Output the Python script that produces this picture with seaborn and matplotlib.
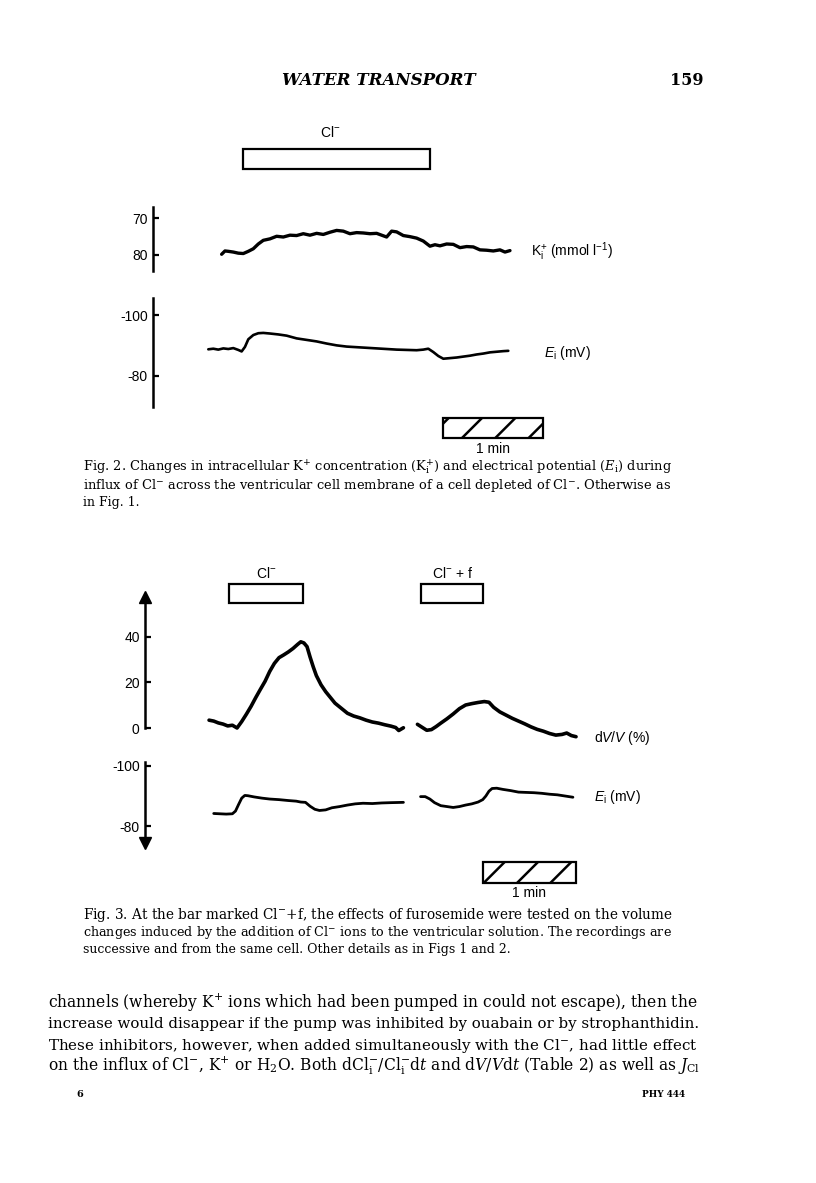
import matplotlib
matplotlib.use("Agg")
import matplotlib.pyplot as plt
import seaborn as sns
import pandas as pd

W, H = 816, 1183

# ---- Fig. 2 recordings (time in s) ----
fig2_k_t = [41, 43, 45, 48, 51, 54, 57, 60, 63, 66, 70, 74, 78, 82, 86, 90, 94, 98, 102, 106,
            110, 114, 118, 122, 126, 130, 134, 137, 140, 143, 146, 150, 154, 158, 162, 166, 169,
            172, 176, 180, 184, 188, 192, 196, 200, 204, 208, 211, 214]
fig2_k = [79.8, 78.9, 79.0, 79.2, 79.5, 79.6, 79.0, 78.3, 77.0, 76.0, 75.6, 74.9, 75.1, 74.6, 74.7,
          74.2, 74.6, 74.1, 74.4, 73.8, 73.3, 73.5, 74.2, 73.9, 74.0, 74.2, 74.1, 74.6, 75.1, 73.5,
          73.7, 74.7, 75.0, 75.4, 76.2, 77.6, 77.2, 77.5, 77.0, 77.1, 78.0, 77.7, 77.8, 78.6, 78.7,
          78.9, 78.6, 79.2, 78.8]
fig2_e_t = [33, 36, 39, 42, 45, 48, 51, 53, 55, 57, 60, 63, 66, 70, 75, 80, 86, 92, 98, 104, 110,
            116, 122, 128, 134, 140, 146, 152, 158, 162, 165, 168, 171, 174, 178, 182, 186, 190,
            194, 198, 202, 206, 210, 213]
fig2_e = [-88.7, -88.9, -88.6, -89.0, -88.8, -89.1, -88.5, -88.0, -89.5, -92.0, -93.4, -94.0, -94.1,
          -93.9, -93.6, -93.2, -92.3, -91.8, -91.3, -90.6, -90.0, -89.6, -89.4, -89.2, -89.0, -88.8,
          -88.6, -88.5, -88.4, -88.6, -88.9, -87.8, -86.5, -85.6, -85.8, -86.0, -86.3, -86.6, -87.0,
          -87.3, -87.7, -87.9, -88.1, -88.2]
fig2_bar_start = [54]
fig2_bar_len = [112]
fig2_bar_labels = ["Cl$^{-}$"]
fig2_k_ticks = [70, 80]
fig2_e_ticks = [-100, -80]

# ---- Fig. 3 recordings ----
fig3_v1_t = [41, 44, 47, 50, 53, 56, 59, 62, 65, 68, 71, 74, 77, 80, 83, 86, 89, 92, 95, 98, 100,
             102, 104, 106, 108, 110, 113, 116, 119, 122, 126, 130, 134, 138, 142, 146, 150, 154,
             158, 161, 163, 166]
fig3_v1 = [3.6, 3.2, 2.4, 1.9, 1.1, 1.4, 0.2, 3.0, 6.2, 9.6, 13.4, 17.0, 20.5, 24.8, 28.3, 30.8,
           32.0, 33.3, 34.8, 36.6, 37.7, 37.2, 35.6, 31.0, 26.8, 23.0, 19.0, 16.0, 13.5, 11.0, 8.8,
           6.6, 5.4, 4.6, 3.6, 2.8, 2.3, 1.6, 1.0, 0.4, -0.9, 0.3]
fig3_v2_t = [175, 178, 181, 184, 187, 190, 194, 198, 202, 206, 210, 214, 218, 221, 224, 228, 232,
             236, 240, 244, 248, 252, 256, 260, 264, 268, 271, 274, 277]
fig3_v2 = [1.8, 0.5, -0.8, -0.5, 0.8, 2.3, 4.2, 6.3, 8.6, 10.2, 10.8, 11.3, 11.7, 11.4, 9.2, 7.2,
           5.8, 4.4, 3.2, 2.0, 0.7, -0.4, -1.2, -2.2, -2.9, -2.6, -2.0, -3.1, -3.6]
fig3_e1_t = [44, 48, 52, 56, 58, 60, 62, 64, 66, 70, 75, 80, 86, 92, 97, 100, 103, 106, 109, 112,
             116, 120, 125, 130, 135, 140, 146, 152, 158, 166]
fig3_e1 = [-84.2, -84.1, -84.0, -84.1, -85.0, -87.2, -89.3, -90.2, -90.1, -89.7, -89.3, -89.0,
           -88.8, -88.5, -88.3, -88.0, -87.9, -86.6, -85.6, -85.2, -85.4, -86.1, -86.5, -87.0,
           -87.4, -87.6, -87.5, -87.7, -87.8, -87.9]
fig3_e2_t = [177, 180, 183, 186, 190, 194, 198, 202, 206, 210, 214, 217, 219, 221, 223, 226, 230,
             235, 240, 245, 250, 255, 260, 265, 270, 275]
fig3_e2 = [-89.8, -89.8, -89.0, -87.8, -86.8, -86.5, -86.2, -86.5, -87.0, -87.4, -88.0, -88.8,
           -90.0, -91.6, -92.5, -92.6, -92.2, -91.8, -91.3, -91.2, -91.1, -90.9, -90.6, -90.4,
           -90.0, -89.6]
fig3_bar_start = [54, 177.6]
fig3_bar_len = [47.5, 39.8]
fig3_bar_labels = ["Cl$^{-}$", "Cl$^{-}$ + f"]
fig3_v_ticks = [40, 20, 0]
fig3_e_ticks = [-100, -80]

scale_len = 60  # 1 min

header_title = "WATER TRANSPORT"
page_number = "159"

caption2 = [
    r"Fig. 2. Changes in intracellular K$^{+}$ concentration (K$_\mathrm{i}^{+}$) and electrical potential ($E_\mathrm{i}$) during",
    r"influx of Cl$^{-}$ across the ventricular cell membrane of a cell depleted of Cl$^{-}$. Otherwise as",
    r"in Fig. 1.",
]
caption3 = [
    r"Fig. 3. At the bar marked Cl$^{-}$+f, the effects of furosemide were tested on the volume",
    r"changes induced by the addition of Cl$^{-}$ ions to the ventricular solution. The recordings are",
    r"successive and from the same cell. Other details as in Figs 1 and 2.",
]
body = [
    r"channels (whereby K$^{+}$ ions which had been pumped in could not escape), then the",
    r"increase would disappear if the pump was inhibited by ouabain or by strophanthidin.",
    r"These inhibitors, however, when added simultaneously with the Cl$^{-}$, had little effect",
    r"on the influx of Cl$^{-}$, K$^{+}$ or H$_2$O. Both dCl$_\mathrm{i}^{-}$/Cl$_\mathrm{i}^{-}$d$t$ and d$V$/$V$d$t$ (Table 2) as well as $J_\mathrm{Cl}$",
]

sns.set_theme(style="white")
plt.rcParams.update({
    "font.family": ["Liberation Sans", "DejaVu Sans"],
    "mathtext.fontset": "custom",
    "mathtext.rm": "Liberation Sans",
    "mathtext.it": "Liberation Sans:italic",
    "mathtext.bf": "Liberation Sans:bold",
    "axes.unicode_minus": False,
    "text.color": "black",
    "axes.edgecolor": "black",
    "ytick.color": "black",
    "hatch.linewidth": 1.8,
    "hatch.color": "black",
})

fig = plt.figure(figsize=(W / 100, H / 100), dpi=100)
fig.patch.set_facecolor("white")
renderer = fig.canvas.get_renderer()


def px_rect(x0, y0, x1, y1):
    return [x0 / W, 1 - y1 / H, (x1 - x0) / W, (y1 - y0) / H]


def trace_axes(x0, y0, x1, y1, xlim, ylim, ticks):
    ax = fig.add_axes(px_rect(x0, y0, x1, y1))
    ax.patch.set_alpha(0)
    for side in ["top", "right", "bottom"]:
        ax.spines[side].set_visible(False)
    ax.spines["left"].set_linewidth(1.8)
    ax.set_xticks([])
    ax.set_yticks(ticks, labels=[str(v) for v in ticks])
    ax.tick_params(axis="y", direction="in", left=True, length=4.5, width=1.6, pad=4,
                   labelsize=10)
    ax.set_xlim(*xlim)
    ax.set_ylim(*ylim)
    return ax


def draw(ax, t, v, lw):
    sns.lineplot(x=t, y=v, ax=ax, color="black", linewidth=lw, estimator=None, sort=False)
    ax.set_xlabel("")
    ax.set_ylabel("")


def bar_axes(x0, y0, x1, y1, xlim, starts, lens, hatch=None):
    ax = fig.add_axes(px_rect(x0, y0, x1, y1))
    ax.axis("off")
    ax.barh([0.5] * len(starts), lens, left=starts, height=1.0, color="white",
            edgecolor="black", linewidth=1.6, hatch=hatch, clip_on=False)
    ax.set_xlim(*xlim)
    ax.set_ylim(0, 1)
    return ax


def put_line(x0, y, s, size, x1=None, **kw):
    t = fig.text(x0 / W, 1 - y / H, s, fontsize=size, ha="left", va="baseline", **kw)
    if x1 is not None:
        w = t.get_window_extent(renderer).width
        t.set_fontsize(size * (x1 - x0) / w)
    return t


serif = dict(family="DejaVu Serif", math_fontfamily="dejavuserif")

# header
put_line(281.7, 85, header_title, 13, 475, weight="bold", style="italic", **serif)
fig.text(704 / W, 1 - 85 / H, page_number, fontsize=11.5, weight="bold", ha="right",
         va="baseline", **serif)

# ---------------- Fig. 2 ----------------
x0_2, x1_2 = 153.3, 620
xlim2 = (0, (x1_2 - x0_2) * 0.6)

ax = bar_axes(x0_2, 149, x1_2, 169.3, xlim2, fig2_bar_start, fig2_bar_len)
for s, l, lab in zip(fig2_bar_start, fig2_bar_len, fig2_bar_labels):
    ax.text(s + l / 2 - 4, 1.8, lab, ha="center", va="center", fontsize=10)

ax_k = trace_axes(x0_2, 206.7, x1_2, 271, xlim2, (84.36, 66.84), fig2_k_ticks)
draw(ax_k, fig2_k_t, fig2_k, 2.4)
ax_e = trace_axes(x0_2, 298, x1_2, 406.7, xlim2, (-69.8, -105.6), fig2_e_ticks)
draw(ax_e, fig2_e_t, fig2_e, 1.9)
fig.text(531 / W, 1 - 252 / H, r"K$_\mathregular{i}^{+}$ (mmol l$^{-1}$)", fontsize=10,
         va="center")
fig.text(544 / W, 1 - 353 / H, r"$E_\mathregular{i}$ (mV)", fontsize=10, va="center")

ax = bar_axes(x0_2, 418.3, x1_2, 438.3, xlim2, [174], [scale_len], hatch="/")
ax.text(174 + scale_len / 2, -0.55, "1 min", ha="center", va="center", fontsize=10)

for i, line in enumerate(caption2):
    put_line(83, 471 + 17.5 * i, line, 9, 671 if i < 2 else None, **serif)

# ---------------- Fig. 3 ----------------
x0_3, x1_3 = 145.3, 650
k3 = 60 / 93.3
xlim3 = (0, (x1_3 - x0_3) * k3)

ax = bar_axes(x0_3, 584.4, x1_3, 603.4, xlim3, fig3_bar_start, fig3_bar_len)
for s, l, lab in zip(fig3_bar_start, fig3_bar_len, fig3_bar_labels):
    ax.text(s + l / 2, 1.6, lab, ha="center", va="center", fontsize=10)

ax_v = trace_axes(x0_3, 597, x1_3, 742, xlim3, (-5.9, 57.2), fig3_v_ticks)
ax_v.spines["left"].set_bounds(0, 57.2)
ax_v.plot(0, 1, marker="^", ms=9, color="black", transform=ax_v.transAxes, clip_on=False)
draw(ax_v, fig3_v1_t, fig3_v1, 2.6)
draw(ax_v, fig3_v2_t, fig3_v2, 2.6)

ax_e3 = trace_axes(x0_3, 761.7, x1_3, 843, xlim3, (-74.4, -101.4), fig3_e_ticks)
ax_e3.plot(0, 0, marker="v", ms=9, color="black", transform=ax_e3.transAxes, clip_on=False)
draw(ax_e3, fig3_e1_t, fig3_e1, 2.0)
draw(ax_e3, fig3_e2_t, fig3_e2, 2.0)
fig.text(594 / W, 1 - 738 / H, r"d$V$/$V$ (%)", fontsize=10, va="center")
fig.text(594 / W, 1 - 797 / H, r"$E_\mathregular{i}$ (mV)", fontsize=10, va="center")

ax = bar_axes(x0_3, 862, x1_3, 882.7, xlim3, [217], [scale_len], hatch="/")
ax.text(217 + scale_len / 2, -0.5, "1 min", ha="center", va="center", fontsize=10)

for i, line in enumerate(caption3):
    put_line(83, 919 + 17 * i, line, 9, 671 if i < 2 else None, **serif)

# ---------------- running text ----------------
for i, line in enumerate(body):
    put_line(48, 1007 + 21.3 * i, line, 10.5, 702, **serif)

put_line(76, 1097, "6", 7, weight="bold", **serif)
put_line(642, 1097, "PHY 444", 7, 685, weight="bold", **serif)

fig.savefig("out.png", dpi=100, facecolor="white")
